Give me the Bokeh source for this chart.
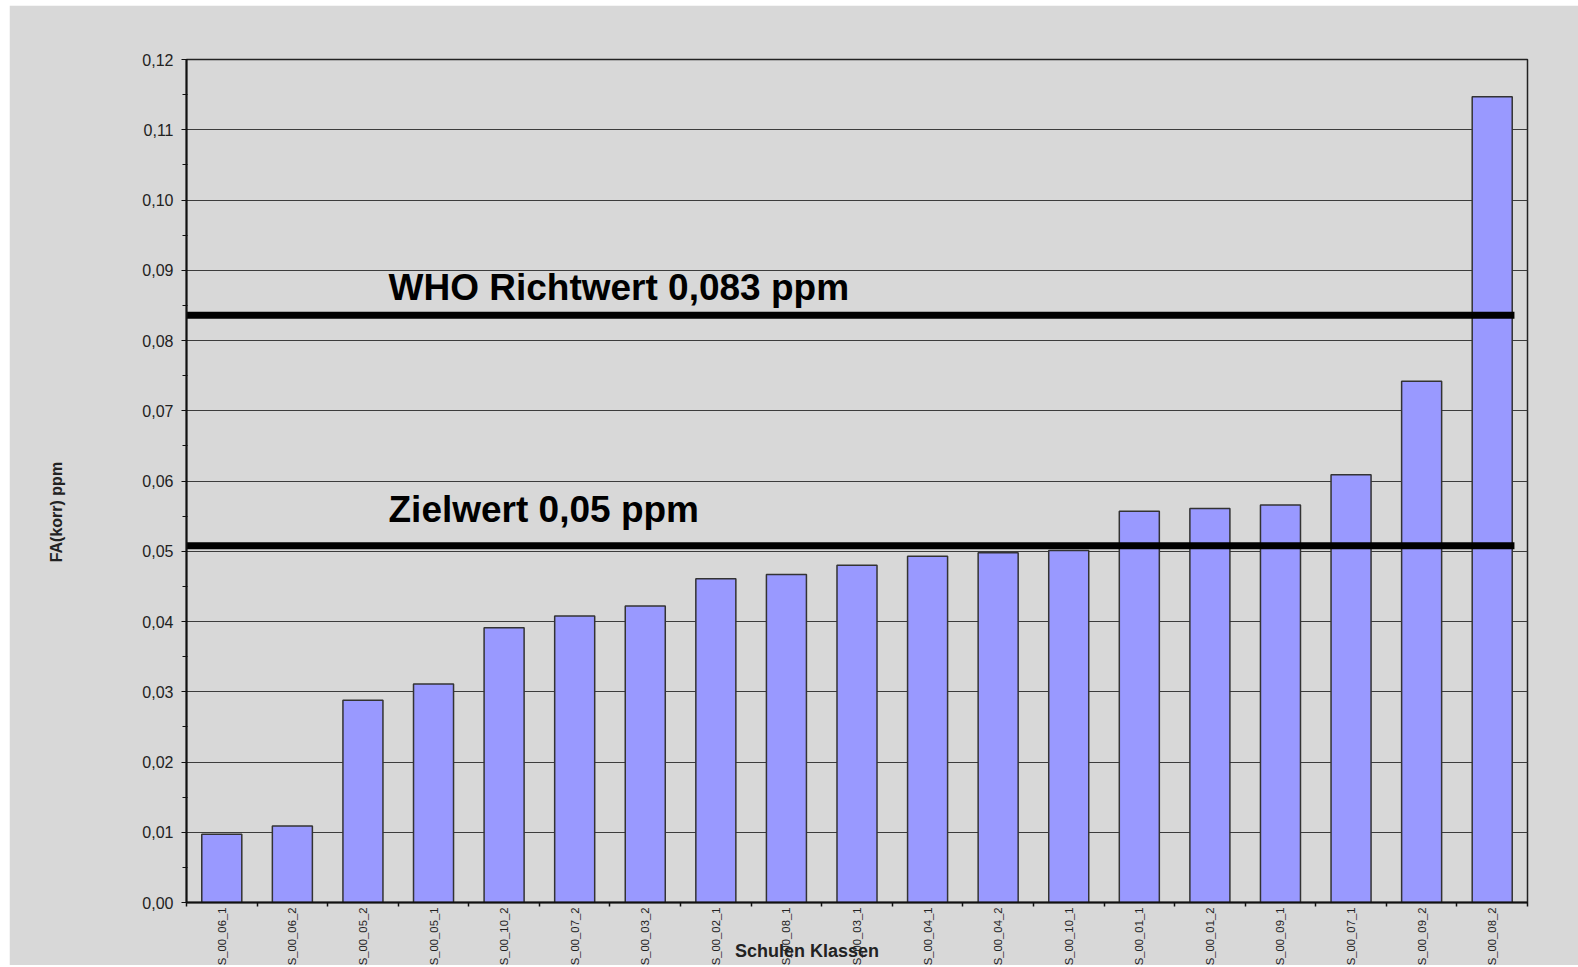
import math
from bokeh.plotting import figure
from bokeh.models import (Range1d, SingleIntervalTicker, FixedTicker, CustomJSTickFormatter,
                          ColumnDataSource, Label)
from bokeh.embed import file_html
from bokeh.resources import INLINE

categories = ["S_00_06_1", "S_00_06_2", "S_00_05_2", "S_00_05_1", "S_00_10_2",
              "S_00_07_2", "S_00_03_2", "S_00_02_1", "S_00_08_1", "S_00_03_1",
              "S_00_04_1", "S_00_04_2", "S_00_10_1", "S_00_01_1", "S_00_01_2",
              "S_00_09_1", "S_00_07_1", "S_00_09_2", "S_00_08_2"]
values = [0.0097, 0.0109, 0.0288, 0.0311, 0.0391, 0.0408, 0.0422, 0.0461, 0.0467,
          0.0480, 0.0493, 0.0498, 0.0501, 0.0557, 0.0561, 0.0566, 0.0609, 0.0742, 0.1147]
who_value = 0.0836
ziel_value = 0.0508
who_text = "WHO Richtwert 0,083 ppm"
ziel_text = "Zielwert 0,05 ppm"
x_title = "Schulen  Klassen"
y_title = "FA(korr) ppm"

FONT = "Liberation Sans"
BG = "#d8d8d8"
NBSP = "\u00a0"

n = len(categories)
centers = [i + 0.5 for i in range(n)]

p = figure(width=1569, height=960, output_backend="svg", toolbar_location=None,
           x_range=Range1d(0, n), y_range=Range1d(0, 0.12),
           min_border_left=177, min_border_right=51, min_border_top=54, min_border_bottom=63,
           background_fill_color=BG, border_fill_color=BG)
p.margin = (5, 0, 0, 9)
p.outline_line_color = "#222222"
p.outline_line_width = 1.5

# grid
p.xgrid.visible = False
p.ygrid.grid_line_color = "#3c3c3c"
p.ygrid.grid_line_width = 1.2

# y axis
yt = SingleIntervalTicker(interval=0.01, num_minor_ticks=2)
p.yaxis.ticker = yt
p.ygrid.ticker = yt
p.yaxis.formatter = CustomJSTickFormatter(code="return tick.toFixed(2).replace('.', ',');")
p.yaxis.major_label_text_font = FONT
p.yaxis.major_label_text_font_size = "16px"
p.yaxis.major_label_text_color = "#222222"
p.yaxis.major_label_standoff = 8
p.yaxis.major_tick_out = 5
p.yaxis.major_tick_in = 0
p.yaxis.minor_tick_out = 4
p.yaxis.minor_tick_in = 1
p.yaxis.axis_line_color = "#111111"
p.yaxis.axis_line_width = 2
p.yaxis.major_tick_line_color = "#111111"
p.yaxis.minor_tick_line_color = "#111111"
# trailing no-break spaces shift the visible label towards the bottom, as in the original
p.yaxis.axis_label = y_title + NBSP * 14
p.yaxis.axis_label_text_font = FONT
p.yaxis.axis_label_text_font_style = "bold"
p.yaxis.axis_label_text_font_size = "16px"
p.yaxis.axis_label_text_color = "#222222"
p.yaxis.axis_label_standoff = 74

# x axis: labels at category centres, tick marks at category boundaries
p.xaxis.ticker = FixedTicker(ticks=centers, minor_ticks=list(range(n + 1)))
p.xaxis.major_label_overrides = {c: lab for c, lab in zip(centers, categories)}
p.xaxis.major_label_orientation = math.pi / 2
p.xaxis.major_label_text_font = FONT
p.xaxis.major_label_text_font_size = "11.3px"
p.xaxis.major_label_text_color = "#222222"
p.xaxis.major_label_standoff = 1
p.xaxis.major_tick_line_color = None
p.xaxis.major_tick_out = 4
p.xaxis.major_tick_in = 0
p.xaxis.minor_tick_out = 4
p.xaxis.minor_tick_in = 0
p.xaxis.minor_tick_line_color = "#111111"
p.xaxis.minor_tick_line_width = 1.5
p.xaxis.axis_line_color = "#111111"
p.xaxis.axis_line_width = 2
# trailing no-break spaces shift the visible title to the left, as in the original
p.xaxis.axis_label = x_title + NBSP * 19
p.xaxis.axis_label_text_font = FONT
p.xaxis.axis_label_text_font_style = "bold"
p.xaxis.axis_label_text_font_size = "18px"
p.xaxis.axis_label_text_color = "#222222"
p.xaxis.axis_label_standoff = -27

src = ColumnDataSource(dict(x=centers, top=values, cat=categories))
p.vbar(x="x", top="top", bottom=0, width=0.567, source=src,
       fill_color="#9999ff", line_color="#333333", line_width=1.5)

# threshold lines
p.segment(x0=[0, 0], x1=[18.815, 18.815], y0=[who_value, ziel_value], y1=[who_value, ziel_value],
          line_color="black", line_width=7)

p.add_layout(Label(x=2.862, y=0.0875, text=who_text, text_font=FONT, text_font_style="bold",
                   text_font_size="37px", text_color="black", text_baseline="alphabetic"))
p.add_layout(Label(x=2.862, y=0.0559, text=ziel_text, text_font=FONT, text_font_style="bold",
                   text_font_size="37px", text_color="black", text_baseline="alphabetic"))

open("out.html", "w").write(file_html(p, INLINE))
